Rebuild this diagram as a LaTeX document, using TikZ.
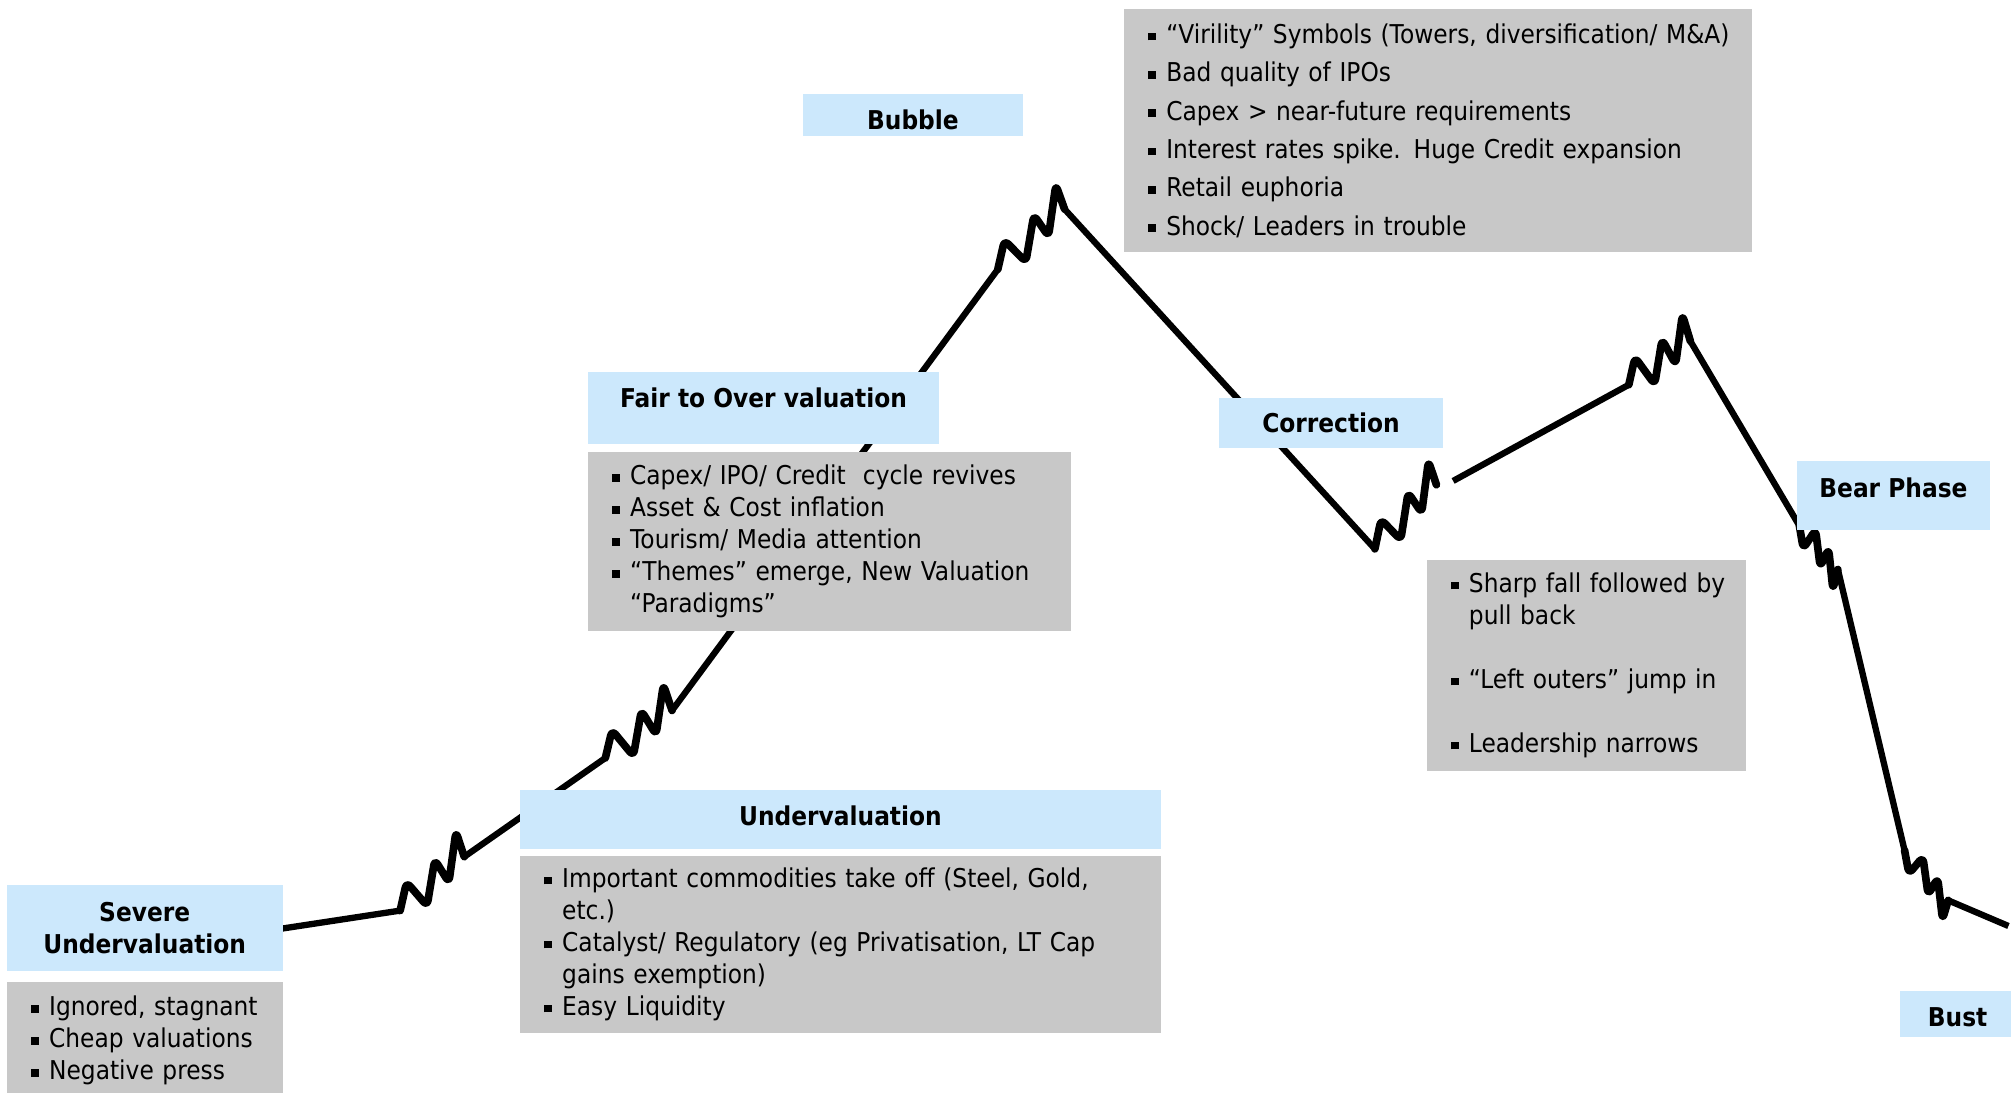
\documentclass[tikz,border=0pt]{standalone}
\usepackage{fontspec}
\setmainfont{DejaVu Sans}[FakeStretch=0.9]
\usetikzlibrary{calc}
\definecolor{hdrblue}{RGB}{204,232,252}
\definecolor{boxgray}{RGB}{200,200,200}
\tikzset{
  head/.style={fill=hdrblue, anchor=north west, align=center, inner sep=0pt,
    font=\fontsize{11.5}{14.2}\selectfont\bfseries},
  notes/.style={fill=boxgray, anchor=north west, align=left, inner xsep=0.28cm, inner ysep=0pt,
    font=\fontsize{11.5}{14.2}\selectfont},
  trend/.style={line width=2.8pt, line join=round},
  coil/.style={line width=3.4pt, line join=round, line cap=round, rounded corners=2.5pt}
}
\newcommand\bul{\hspace*{0.1cm}\makebox[0.28cm][l]{\rule[1.4pt]{3.4pt}{3.4pt}}}
\newcommand\ind{\hspace*{0.38cm}}
\newcommand\wig[3]{%
  \draw[coil] (#1) \foreach \t/\k in {0.1/1.8,0.42/-1.4,0.54/1.7,0.76/-1.0,0.87/2.5}
    { -- ($(#1)!\t!(#2)+\k*(#3)$) } -- (#2);}
\begin{document}
\begin{tikzpicture}[x=0.02cm, y=-0.02cm]
  \useasboundingbox[fill=white] (0,0) rectangle (1568,852);
  % the cycle
  \coordinate (s0) at (220,724);
  \coordinate (s1) at (312,710);
  \coordinate (s2) at (362,668);
  \coordinate (s3) at (472,591);
  \coordinate (s4) at (524,554);
  \coordinate (s5) at (778,210);
  \coordinate (s6) at (830,163);
  \coordinate (s7) at (1072,428);
  \coordinate (s8) at (1120,378);
  \coordinate (s9) at (1133,375);
  \coordinate (s10) at (1270,300);
  \coordinate (s11) at (1318,266);
  \coordinate (s12) at (1403,410);
  \coordinate (s13) at (1433,444);
  \coordinate (s14) at (1485,663);
  \coordinate (s15) at (1519,702);
  \coordinate (s16) at (1566,722);
  \draw[trend] (s0) -- (s1);
  \wig{s1}{s2}{0,-10}
  \draw[trend] (s2) -- (s3);
  \wig{s3}{s4}{0,-10}
  \draw[trend] (s4) -- (s5);
  \wig{s5}{s6}{0,-10}
  \draw[trend] (s6) -- (s7);
  \wig{s7}{s8}{0,-10}
  \draw[trend] (s9) -- (s10);
  \wig{s10}{s11}{0,-10}
  \draw[trend] (s11) -- (s12);
  \wig{s12}{s13}{0,8}
  \draw[trend] (s13) -- (s14);
  \wig{s14}{s15}{0,8}
  \draw[trend] (s15) -- (s16);

  \node[head, minimum width=4.3cm, minimum height=1.34cm] (sevH) at (5,690) {Severe\\Undervaluation};
  \node[notes, text width=3.74cm, minimum height=1.84cm] (sevN) at (5,765)
    {\bul Ignored, stagnant\\ \bul Cheap valuations\\ \bul Negative press};

  \node[head, minimum width=10cm, minimum height=0.92cm, text depth=4pt] (undH) at (405,616) {Undervaluation};
  \node[notes, text width=9.44cm, minimum height=2.76cm] (undN) at (405,667)
    {\bul Important commodities take off (Steel, Gold,\\ \ind etc.)\\
     \bul Catalyst/ Regulatory (eg Privatisation, LT Cap\\ \ind gains exemption)\\
     \bul Easy Liquidity};

  \node[head, minimum width=5.48cm, minimum height=1.12cm, text depth=9.6pt] (fairH) at (458,290) {Fair to Over valuation};
  \node[notes, text width=6.98cm, minimum height=2.8cm] (fairN) at (458,352)
    {\bul Capex/ IPO/ Credit\ \ cycle revives\\ \bul Asset \& Cost inflation\\
     \bul Tourism/ Media attention\\ \bul “Themes” emerge, New Valuation\\ \ind “Paradigms”};

  \node[head, minimum width=3.42cm, minimum height=0.66cm, text height=12.6pt] (bubH) at (626,73) {Bubble};
  \node[notes, text width=9.24cm, minimum height=3.78cm, font=\fontsize{11.5}{17}\selectfont] (bubN) at (876,7)
    {\bul “Virility” Symbols (Towers, diversification/ M\&A)\\ \bul Bad quality of IPOs\\
     \bul Capex > near-future requirements\\ \bul Interest rates spike. Huge Credit expansion\\
     \bul Retail euphoria\\ \bul Shock/ Leaders in trouble};

  \node[head, minimum width=3.5cm, minimum height=0.78cm] (corH) at (950,310) {Correction};
  \node[notes, text width=4.42cm, minimum height=3.3cm] (corN) at (1112,436)
    {\bul Sharp fall followed by\\ \ind pull back\\[14.2pt]
     \bul “Left outers” jump in\\[14.2pt] \bul Leadership narrows};

  \node[head, minimum width=3cm, minimum height=1.08cm, text depth=7.4pt] (bearH) at (1401,359) {Bear Phase};
  \node[head, minimum width=1.8cm, minimum height=0.72cm, text height=11.4pt] (bustH) at (1481,772) {Bust};
\end{tikzpicture}
\end{document}
